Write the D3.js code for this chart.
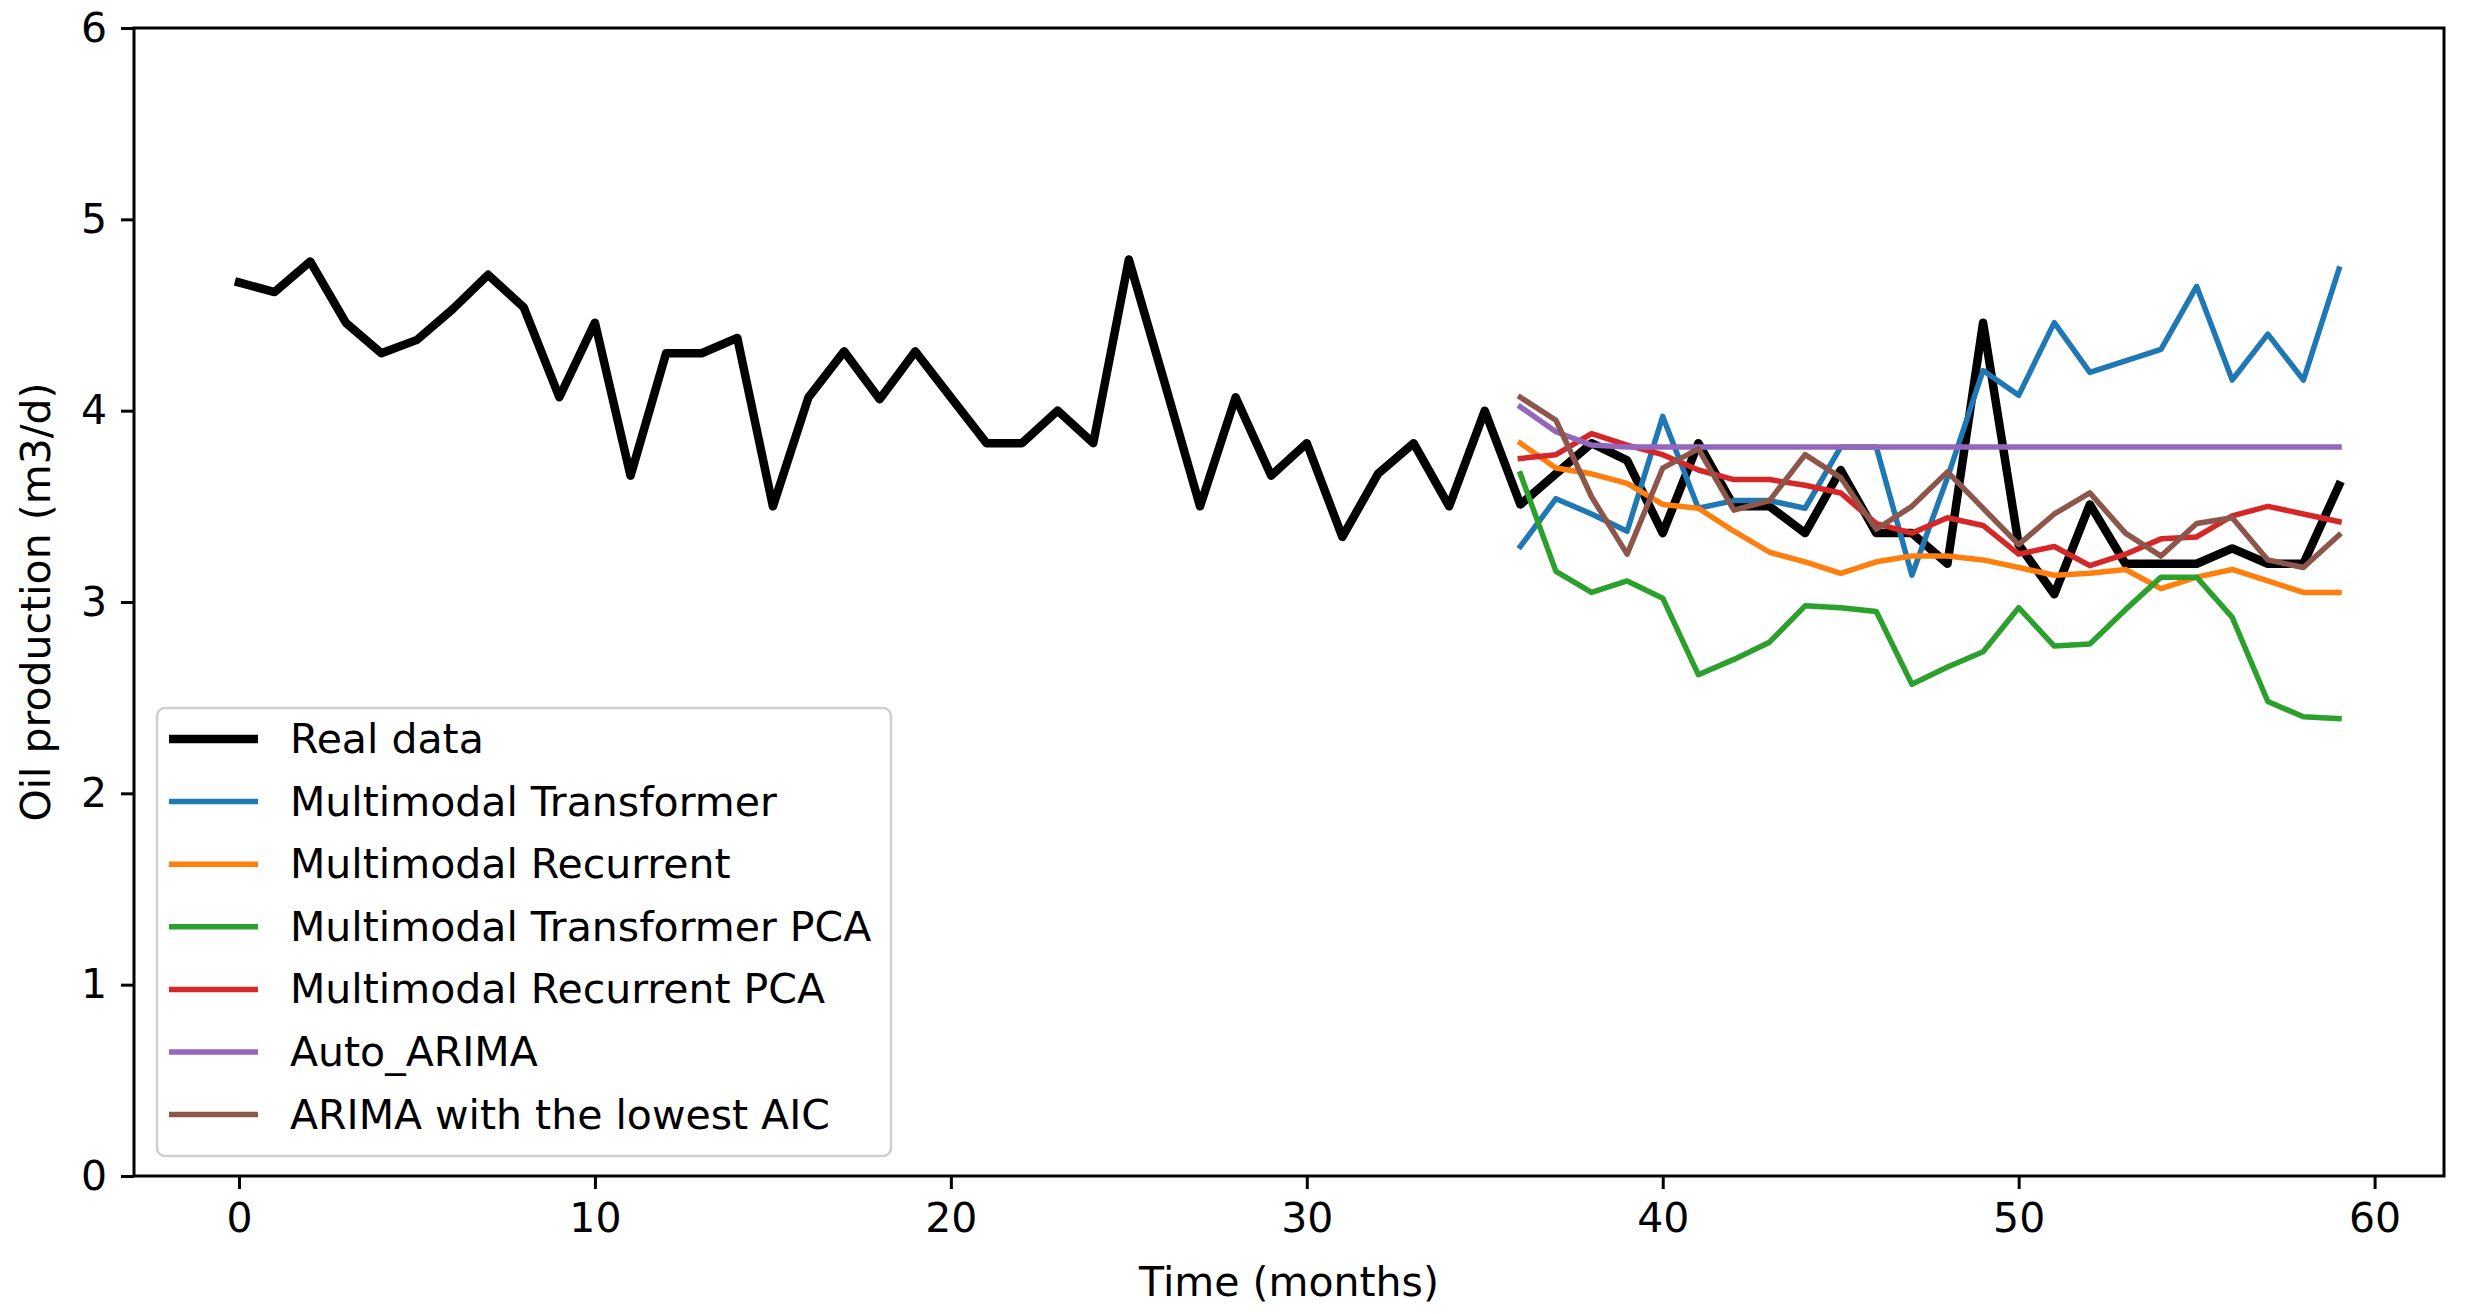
<!DOCTYPE html>
<html>
<head>
<meta charset="utf-8">
<script src="https://cdn.jsdelivr.net/npm/d3@7"></script>
<style>
  body { margin: 0; background: #fff; }
  text { font-family: "DejaVu Sans", sans-serif; }
</style>
</head>
<body>
<div id="chart"></div>
<script>
var width = 2471,
    height = 1314;

// observed production, months 0..59
var realData = [4.67, 4.62, 4.78, 4.46, 4.30, 4.37, 4.53, 4.71, 4.54, 4.07,
                4.46, 3.66, 4.30, 4.30, 4.38, 3.50, 4.07, 4.31, 4.06, 4.31,
                4.07, 3.83, 3.83, 4.00, 3.83, 4.79, 4.15, 3.50, 4.07, 3.66,
                3.83, 3.34, 3.67, 3.83, 3.50, 4.00, 3.51, 3.67, 3.83, 3.74,
                3.36, 3.83, 3.50, 3.50, 3.36, 3.69, 3.36, 3.36, 3.20, 4.46,
                3.30, 3.04, 3.51, 3.20, 3.20, 3.20, 3.28, 3.20, 3.20, 3.61];

// forecasts start at month 36
var forecastStart = 36;
var transformer = [3.29, 3.54, 3.46, 3.37, 3.97, 3.49, 3.53, 3.53, 3.49, 3.81,
                   3.81, 3.14, 3.65, 4.21, 4.08, 4.46, 4.20, 4.26, 4.32, 4.65,
                   4.16, 4.40, 4.16, 4.74];
var recurrent = [3.83, 3.70, 3.67, 3.62, 3.51, 3.49, 3.37, 3.26, 3.21, 3.15,
                 3.21, 3.24, 3.24, 3.22, 3.18, 3.14, 3.15, 3.17, 3.07, 3.13,
                 3.17, 3.11, 3.05, 3.05];
var transformerPca = [3.67, 3.16, 3.05, 3.11, 3.02, 2.62, 2.70, 2.79, 2.98, 2.97,
                      2.95, 2.57, 2.66, 2.74, 2.97, 2.77, 2.78, 2.96, 3.13, 3.13,
                      2.92, 2.48, 2.40, 2.39];
var recurrentPca = [3.75, 3.77, 3.88, 3.82, 3.77, 3.69, 3.64, 3.64, 3.61, 3.57,
                    3.41, 3.36, 3.44, 3.40, 3.25, 3.29, 3.19, 3.25, 3.33, 3.34,
                    3.45, 3.50, 3.46, 3.42];
var autoArima = [4.02, 3.89, 3.82, 3.81, 3.81, 3.81, 3.81, 3.81, 3.81, 3.81,
                 3.81, 3.81, 3.81, 3.81, 3.81, 3.81, 3.81, 3.81, 3.81, 3.81,
                 3.81, 3.81, 3.81, 3.81];
var arimaAic = [4.07, 3.95, 3.55, 3.25, 3.70, 3.80, 3.48, 3.53, 3.77, 3.65,
                3.38, 3.50, 3.68, 3.49, 3.30, 3.46, 3.57, 3.36, 3.24, 3.41,
                3.44, 3.22, 3.18, 3.35];

var seriesNames = ["Real data", "Multimodal Transformer", "Multimodal Recurrent",
                   "Multimodal Transformer PCA", "Multimodal Recurrent PCA",
                   "Auto_ARIMA", "ARIMA with the lowest AIC"];
var seriesColors = ["#000000", "#1f77b4", "#ff7f0e", "#2ca02c", "#d62728", "#9467bd", "#8c564b"];
var xTicks = [0, 10, 20, 30, 40, 50, 60];
var yTicks = [0, 1, 2, 3, 4, 5, 6];

var series = [realData, transformer, recurrent, transformerPca, recurrentPca, autoArima, arimaAic]
  .map(function (vals, i) {
    var start = i === 0 ? 0 : forecastStart;
    return {
      name: seriesNames[i],
      color: seriesColors[i],
      width: i === 0 ? 8.5 : 5.5,
      points: vals.map(function (v, j) { return [start + j, v]; })
    };
  });

var plotLeft = 134, plotRight = 2444, plotTop = 28, plotBottom = 1176;
var fontSize = 41;

var x = d3.scaleLinear().domain([-2.95, 61.95]).range([plotLeft, plotRight]);
var y = d3.scaleLinear().domain([0, 6]).range([plotBottom, plotTop]);

var svg = d3.select("#chart").append("svg")
    .attr("width", width)
    .attr("height", height);

svg.append("rect").attr("width", width).attr("height", height).attr("fill", "#fff");

var line = d3.line()
    .x(function (d) { return x(d[0]); })
    .y(function (d) { return y(d[1]); });

var lines = svg.append("g");
lines.selectAll("path")
    .data(series)
    .enter()
    .append("path")
    .attr("d", function (d) { return line(d.points); })
    .attr("fill", "none")
    .attr("stroke", function (d) { return d.color; })
    .attr("stroke-width", function (d) { return d.width; })
    .attr("stroke-linejoin", "round")
    .attr("stroke-linecap", "square");

// axes
var xAxis = svg.append("g")
    .attr("transform", "translate(0," + plotBottom + ")")
    .call(d3.axisBottom(x).tickValues(xTicks).tickFormat(d3.format("d")).tickSize(13).tickPadding(14));
var yAxis = svg.append("g")
    .attr("transform", "translate(" + plotLeft + ",0)")
    .call(d3.axisLeft(y).tickValues(yTicks).tickFormat(d3.format("d")).tickSize(13).tickPadding(14));

[xAxis, yAxis].forEach(function (g) {
  g.select(".domain").remove();
  g.selectAll("line").attr("stroke", "#000").attr("stroke-width", 3);
  g.selectAll("text")
    .attr("font-family", "DejaVu Sans, sans-serif")
    .attr("font-size", fontSize)
    .attr("fill", "#000");
});

svg.append("rect")
    .attr("x", plotLeft)
    .attr("y", plotTop)
    .attr("width", plotRight - plotLeft)
    .attr("height", plotBottom - plotTop)
    .attr("fill", "none")
    .attr("stroke", "#000")
    .attr("stroke-width", 3);

svg.append("text")
    .attr("x", (plotLeft + plotRight) / 2)
    .attr("y", 1296)
    .attr("text-anchor", "middle")
    .attr("font-size", fontSize)
    .text("Time (months)");

svg.append("text")
    .attr("transform", "translate(36," + ((plotTop + plotBottom) / 2) + ") rotate(-90)")
    .attr("text-anchor", "middle")
    .attr("dominant-baseline", "central")
    .attr("font-size", fontSize)
    .text("Oil production (m3/d)");

// legend
var legend = svg.append("g");
legend.append("rect")
    .attr("x", 157)
    .attr("y", 708)
    .attr("width", 734)
    .attr("height", 448)
    .attr("rx", 8)
    .attr("fill", "#fff")
    .attr("fill-opacity", 0.8)
    .attr("stroke", "#cfcfcf")
    .attr("stroke-width", 2.5);

var rows = legend.selectAll("g.row")
    .data(series)
    .enter()
    .append("g")
    .attr("class", "row")
    .attr("transform", function (d, i) { return "translate(0," + (739 + i * 62.6) + ")"; });

rows.append("line")
    .attr("x1", 169)
    .attr("x2", 258)
    .attr("stroke", function (d) { return d.color; })
    .attr("stroke-width", function (d) { return d.width; });

rows.append("text")
    .attr("x", 290)
    .attr("dominant-baseline", "central")
    .attr("font-size", fontSize)
    .text(function (d) { return d.name; });
</script>
</body>
</html>
